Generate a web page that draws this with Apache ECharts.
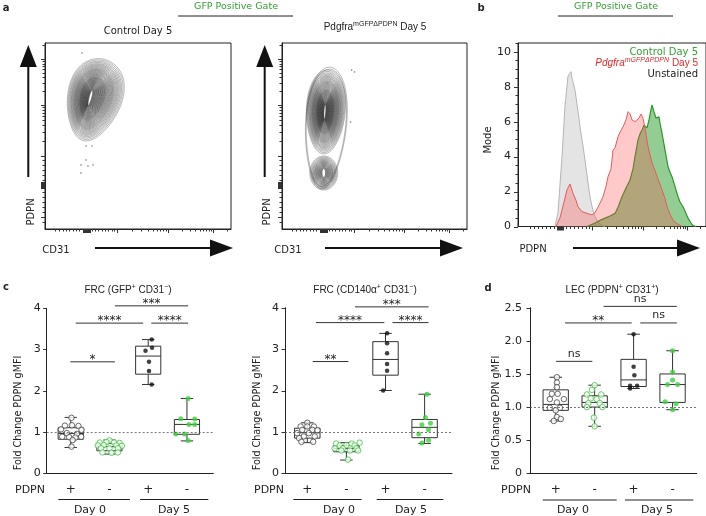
<!DOCTYPE html>
<html><head><meta charset="utf-8">
<script src="https://cdn.jsdelivr.net/npm/echarts@6/dist/echarts.min.js"></script>
<style>html,body{margin:0;padding:0;background:#fff}#c{width:706px;height:516px}</style>
</head><body><div id="c"></div><script>
const F = 'DejaVu Sans';

// ---------------- Panel a : flow contour plots (axis units, origin bottom-left of box) ----------------
const aMajorX = [38,39,40,41,42,43,44,45,72,123,168];
const aMinorX = [10,14,18,21,24,28,31,34,47,50,53,57,60,63,67,69,87.4,96.3,102.7,107.6,111.7,115.1,118.0,120.6,136.5,144.5,150.1,154.5,158.0,161.0,163.6,165.9,181.5];
const aMajorY = [12,41,42,43,44,45,46,47,73,124,170];
const aMinorY = [7,17,22,27,32,37,49,54,59,64,69,88.4,97.3,103.7,108.6,112.7,116.1,119.0,121.6,137.8,145.9,151.7,156.2,159.8,162.8,165.5,167.9,183.8];
const ringScalesMain = [1,0.96,0.92,0.885,0.85,0.82,0.79,0.76,0.73,0.70,0.675,0.65,0.625,0.60,0.575,0.55,0.525,0.50,0.475,0.45,0.43,0.41,0.39,0.37,0.35,0.33,0.31,0.29,0.27,0.25,0.23,0.21,0.19,0.17,0.15,0.13,0.11,0.09,0.07,0.05];
const ringScalesSmall = [1,0.93,0.86,0.8,0.74,0.68,0.63,0.58,0.53,0.48,0.43,0.38,0.33,0.28,0.23,0.18,0.13];
const ringScalesEnvelope = [1,0.96];
const controlBlobs = [
  {center:[49,129], core:[45,131], radius:[27,42], tilt:15, egg:0.2, rings:ringScalesMain}
];
const pdgfraBlobs = [
  {center:[44,101], core:[44,101], radius:[20.5,61], tilt:4, egg:0.15, rings:ringScalesEnvelope},
  {center:[44,117], core:[43,117], radius:[19.5,42], tilt:3, egg:0.1, rings:ringScalesMain},
  {center:[42,56], core:[42,56], radius:[14,17], tilt:0, egg:0, rings:ringScalesSmall}
];
const controlEvents = [[37,176],[41,83],[47,83],[41,69],[36,64],[43,63],[48,64],[36,56]];
const pdgfraEvents = [[70,159],[73,157],[69,107]];

// ---------------- Panel b : histograms (x = scaled PDPN channel, y = Mode) ----------------
const bMajorX = [39,40,41,42,43,44,45,74,125,169];
const bMinorX = [12,16,20,24,28,32,36,48,52,56,60,64,68,71,89.4,98.3,104.7,109.6,113.7,117.1,120.0,122.6,138.2,146.0,151.5,155.8,159.2,162.2,164.7,167.0,182.2];
const bYLabels = [0,2,4,6,8,10];
const bYMinor = [0.5,1,1.5,2.5,3,3.5,4.5,5,5.5,6.5,7,7.5,8.5,9,9.5,10.5];
const unstained = [[37,0],[40,0.8],[44,4.0],[47,6.9],[50,8.6],[53,8.86],[54,8.5],[55,8.6],[57,7.8],[60,6.6],[62,5.7],[65,4.6],[67,3.8],[70,2.5],[72,1.7],[75,0.9],[77,0.56],[80,0.25],[84,0.05],[87,0]];
const pdgfraHist = [[38,0],[42,0.5],[46,1.4],[49,2.1],[52,2.43],[55,1.9],[58,1.5],[60,1.13],[64,0.85],[69,0.75],[74,0.66],[77,0.8],[80,1.1],[85,1.7],[88,2.3],[90,2.85],[93,3.3],[95,4.38],[97,4.5],[100,5.14],[103,5.5],[105,5.7],[108,6.1],[110,6.57],[112,6.45],[114,6.1],[117,6.0],[119,6.1],[121,6.2],[123,6.44],[125,6.2],[127,5.64],[130,4.57],[132,4.1],[134,3.63],[137,3.2],[139,2.85],[142,2.4],[144,2.09],[147,1.6],[149,1.13],[152,0.7],[155,0.37],[158,0.2],[160,0.1],[164,0]];
const controlHist = [[69,0],[77,0.2],[82,0.35],[87,0.48],[92,0.6],[97,0.75],[100,1.1],[104,1.7],[108,2.2],[112,2.66],[115,3.3],[117,4.0],[120,4.95],[122,5.3],[124,5.52],[126,5.8],[129,5.64],[131,6.1],[133,6.7],[134,6.95],[136,6.57],[138,6.2],[139,6.1],[141,6.28],[142,5.9],[144,5.33],[147,4.38],[150,3.42],[152,3.1],[154,2.85],[157,2.28],[160,1.7],[162,1.4],[165,1.13],[168,0.75],[170,0.48],[173,0.2],[175,0.05],[178,0]];

// ---------------- Panels c, d : box plots ----------------
const pdpnSigns = ['+','-','+','-'];
const groupDays = ['Day 0','Day 5'];
const cTicks = [0,1,2,3,4];
const dTicks = [0,0.5,1,1.5,2,2.5];
// [whisker low, Q1, median, Q3, whisker high]
const c1Stats = [[0.62,0.82,0.96,1.10,1.35],[0.46,0.54,0.64,0.72,0.80],[2.15,2.40,2.84,3.08,3.24],[0.78,0.94,1.18,1.30,1.81]];
const c2Stats = [[0.74,0.85,0.98,1.09,1.22],[0.32,0.52,0.60,0.67,0.74],[2.00,2.37,2.75,3.18,3.38],[0.72,0.86,1.11,1.30,1.91]];
const dStats  = [[0.79,0.95,1.04,1.26,1.45],[0.71,1.00,1.07,1.17,1.33],[1.28,1.31,1.41,1.72,2.10],[0.96,1.07,1.34,1.50,1.85]];
// individual points: [horizontal jitter, value]
const c1Pts = [
  [[0.02,1.34],[-0.15,1.15],[0.03,1.16],[0.2,1.14],[-0.25,1.06],[0.28,1.05],[-0.1,0.97],[0.16,0.95],[-0.22,0.88],[-0.04,0.87],[0.12,0.86],[0.27,0.88],[0.05,0.80],[0.02,0.64]],
  [[0.0,0.79],[-0.25,0.74],[-0.08,0.75],[0.12,0.74],[0.26,0.73],[-0.3,0.67],[-0.15,0.68],[0.18,0.67],[0.32,0.66],[-0.22,0.6],[0.0,0.6],[0.22,0.6],[-0.18,0.5],[0.05,0.49],[0.22,0.5]],
  [[0.09,3.24],[-0.07,2.97],[0.1,3.04],[0.02,2.70],[0.02,2.48],[0.09,2.15]],
  [[0.03,1.81],[-0.16,1.32],[0.2,1.31],[0.05,1.18],[0.2,1.18],[-0.29,0.95],[-0.06,0.95],[0.03,0.79]]
];
const c2Pts = [
  [[0,1.22],[-0.17,1.13],[0,1.13],[0.17,1.13],[-0.13,1.05],[0.13,1.05],[0.26,1.04],[-0.26,0.97],[0.04,0.97],[-0.09,0.89],[0.19,0.89],[-0.21,0.85],[-0.15,0.76],[0.15,0.76]],
  [[-0.26,0.72],[0.13,0.72],[0.34,0.74],[-0.17,0.67],[0,0.68],[0.21,0.67],[-0.3,0.6],[-0.09,0.6],[0.26,0.6],[-0.13,0.55],[0.09,0.55],[0.3,0.55],[0.04,0.33]],
  [[0.04,3.38],[0.04,3.14],[0.04,2.9],[0.04,2.64],[0.04,2.48],[-0.06,2.0]],
  [[0.06,1.91],[0.02,1.35],[0.15,1.21],[-0.07,1.17],[0.1,1.05],[-0.15,0.95],[0.1,0.8],[-0.07,0.73]]
];
const dPts = [
  [[0.03,1.45],[0.03,1.37],[0.03,1.30],[-0.1,1.2],[0.05,1.2],[-0.15,1.12],[0.21,1.12],[0.03,1.07],[-0.15,0.99],[0.11,0.99],[0,0.95],[0.03,0.85],[0.13,0.82],[-0.05,0.79]],
  [[0,1.33],[-0.07,1.26],[-0.2,1.19],[0.17,1.19],[-0.1,1.13],[0.05,1.12],[-0.16,1.06],[0.13,1.06],[-0.2,1.0],[0.2,1.0],[-0.02,0.84],[0,0.71]],
  [[0,2.10],[0,1.61],[0.02,1.48],[-0.09,1.32],[0.09,1.32],[-0.09,1.28]],
  [[0,1.85],[0,1.53],[0,1.41],[-0.13,1.34],[0.13,1.34],[-0.19,1.08],[0.09,1.05],[0,0.96]]
];
// significance bars: [x start, x end, y, label index]
const sigLabels = ['*','**','***','****','ns'];
const c1Sig = [[-0.01,1.14,2.70,0],[0.13,1.87,3.64,3],[2.08,3.03,3.64,3],[1.14,3.03,4.06,2]];
const c2Sig = [[0.14,1.05,2.70,1],[0.22,1.97,3.64,3],[2.18,3.10,3.64,3],[1.22,3.10,4.02,2]];
const dSig  = [[0.01,0.94,1.69,4],[0.24,1.95,2.27,1],[2.17,3.11,2.27,4],[1.23,3.11,2.52,4]];

// ---------------- helpers ----------------
function rings(blobs){
  const out = [];
  blobs.forEach(b => b.rings.forEach(s => {
    out.push([b.core[0]+(b.center[0]-b.core[0])*s, b.core[1]+(b.center[1]-b.core[1])*s,
      b.radius[0]*s, b.radius[1]*(0.15+0.85*s), b.tilt, b.egg, 0.45+0.45*(1-s)]);
  }));
  return out;
}
function ringItem(params, api){
  const c = api.coord([api.value(0), api.value(1)]);
  const sz = api.size([api.value(2), api.value(3)]);
  const t = api.value(4)*Math.PI/180, e = api.value(5);
  const pts = [];
  for (let k=0;k<72;k++){
    const a = k/72*2*Math.PI, sx = Math.cos(a), sy = Math.sin(a);
    const x = sz[0]*sx*(1+e*sy), y = sz[1]*sy;
    const xr = x*Math.cos(t)+y*Math.sin(t), yr = -x*Math.sin(t)+y*Math.cos(t);
    pts.push([c[0]+xr, c[1]-yr]);
  }
  return {type:'polygon', silent:true, shape:{points:pts}, style:{fill:'none', stroke:'rgba(35,35,35,'+api.value(6)+')', lineWidth:0.7}};
}
function boxItem(params, api){
  const x = api.value(0);
  const lo = api.coord([x, api.value(1)]), q1 = api.coord([x, api.value(2)]), md = api.coord([x, api.value(3)]),
        q3 = api.coord([x, api.value(4)]), hi = api.coord([x, api.value(5)]);
  const bw = api.size([0.65,0])[0], cw = api.size([0.32,0])[0];
  const st = {stroke:'#333', lineWidth:1};
  const L = (x1,y1,x2,y2) => ({type:'line', shape:{x1,y1,x2,y2}, style:st});
  return {type:'group', children:[
    L(hi[0],hi[1],q3[0],q3[1]), L(lo[0],lo[1],q1[0],q1[1]),
    L(hi[0]-cw/2,hi[1],hi[0]+cw/2,hi[1]), L(lo[0]-cw/2,lo[1],lo[0]+cw/2,lo[1]),
    {type:'rect', shape:{x:q3[0]-bw/2, y:q3[1], width:bw, height:q1[1]-q3[1]}, style:{stroke:'#333', fill:'rgba(0,0,0,0)', lineWidth:1}},
    L(md[0]-bw/2,md[1],md[0]+bw/2,md[1])
  ]};
}
function sigItem(params, api){
  const a = api.coord([api.value(0), api.value(2)]), b = api.coord([api.value(1), api.value(2)]);
  const txt = sigLabels[api.value(3)];
  const star = txt !== 'ns';
  return {type:'group', children:[
    {type:'line', shape:{x1:a[0],y1:a[1],x2:b[0],y2:b[1]}, style:{stroke:'#333', lineWidth:1}},
    {type:'text', style:{text:txt, x:(a[0]+b[0])/2, y:a[1]+(star?4:-2), align:'center', verticalAlign:'bottom', fontFamily:F, fontSize:star?12:11, fill:'#222'}}
  ]};
}
// tick marks drawn through the axis scale: dim 'x' -> ticks below base y, 'y' -> ticks left of base x
function tickSeries(ax, dim, vals, base, len){
  return {type:'custom', xAxisIndex:ax, yAxisIndex:ax, clip:false, silent:true, z:6,
    data: vals.map(v => dim==='x' ? [v, base] : [base, v]),
    renderItem:(p, api) => {
      const pt = api.coord([api.value(0), api.value(1)]);
      if (dim==='x'){ const x = Math.round(pt[0])+0.5; return {type:'line', shape:{x1:x,y1:pt[1],x2:x,y2:pt[1]+len}, style:{stroke:'#333', lineWidth:1}}; }
      const y = Math.round(pt[1])+0.5; return {type:'line', shape:{x1:pt[0],y1:y,x2:pt[0]-len,y2:y}, style:{stroke:'#333', lineWidth:1}};
    }};
}
function vAxis(grid, min, max, pos, extra){
  return Object.assign({type:'value', gridIndex:grid, min, max, position:pos, offset:0, splitLine:{show:false},
    axisLine:{show:true, onZero:false, lineStyle:{color:'#222', width:1}}, axisTick:{show:false}, axisLabel:{show:false}}, extra||{});
}
const catLabel = {show:true, customValues:[0,1,2,3], formatter:v=>pdpnSigns[Math.round(v)], margin:11, fontFamily:F, fontSize:12, color:'#222'};
const xMin = {c1:-0.62, c2:-0.57, d:-0.66};
const xAxes = [
  vAxis(0,0,186,'bottom'), vAxis(1,0,186,'bottom'), vAxis(2,0,188,'bottom'),
  vAxis(3,xMin.c1,3.68,'bottom',{axisLabel:catLabel}),
  vAxis(4,xMin.c2,3.70,'bottom',{axisLabel:catLabel}),
  vAxis(5,xMin.d,3.62,'bottom',{axisLabel:catLabel})
];
const yLab = (vals, fmt, margin) => ({show:true, customValues:vals, formatter:fmt, margin, fontFamily:F, fontSize:11, color:'#222'});
const yAxes = [
  vAxis(0,0,186,'left'), vAxis(1,0,186,'left'),
  vAxis(2,0,10.5,'left',{axisLabel:yLab(bYLabels, v=>String(v), 7)}),
  vAxis(3,0,4,'left',{axisLabel:yLab(cTicks, v=>String(v), 6)}),
  vAxis(4,0,4,'left',{axisLabel:yLab(cTicks, v=>String(v), 6)}),
  vAxis(5,0,2.5,'left',{axisLabel:yLab(dTicks, v=>v===0?'0':v.toFixed(1), 8)})
];

const markerStyles = [
  {symbolSize:5.5, itemStyle:{color:'#fff', borderColor:'#444', borderWidth:1}},
  {symbolSize:5.5, itemStyle:{color:'#fff', borderColor:'#3cc43c', borderWidth:1}},
  {symbolSize:4.5, itemStyle:{color:'#111', borderWidth:0}},
  {symbolSize:5, itemStyle:{color:'#3fd03f', borderWidth:0}}
];
function boxPanel(ax, stats, pts, sig, yt, xmin){
  const s = [];
  s.push({type:'custom', xAxisIndex:ax, yAxisIndex:ax, renderItem:boxItem, z:2,
    data: stats.map((st,i)=>[i].concat(st)),
    markLine:{silent:true, symbol:'none', label:{show:false}, lineStyle:{type:[2,2], color:'#555', width:0.8}, data:[{yAxis:1}]}});
  pts.forEach((g,i)=>s.push(Object.assign({type:'scatter', xAxisIndex:ax, yAxisIndex:ax, symbol:'circle', z:4,
    data:g.map(p=>[i+p[0], p[1]])}, markerStyles[i])));
  s.push({type:'custom', xAxisIndex:ax, yAxisIndex:ax, renderItem:sigItem, clip:false, z:5, data:sig});
  s.push(tickSeries(ax,'y',yt,xmin,3.5));
  return s;
}

const series = [
  {type:'custom', xAxisIndex:0, yAxisIndex:0, renderItem:ringItem, data:rings(controlBlobs), z:2},
  {type:'scatter', xAxisIndex:0, yAxisIndex:0, data:controlEvents, symbolSize:1.6, itemStyle:{color:'#555'}},
  {type:'custom', xAxisIndex:1, yAxisIndex:1, renderItem:ringItem, data:rings(pdgfraBlobs), z:2},
  {type:'scatter', xAxisIndex:1, yAxisIndex:1, data:pdgfraEvents, symbolSize:1.6, itemStyle:{color:'#555'}},
  tickSeries(0,'x',aMajorX,0,4), tickSeries(0,'x',aMinorX,0,2.5), tickSeries(0,'y',aMajorY,0,4), tickSeries(0,'y',aMinorY,0,2.5),
  tickSeries(1,'x',aMajorX,0,4), tickSeries(1,'x',aMinorX,0,2.5), tickSeries(1,'y',aMajorY,0,4), tickSeries(1,'y',aMinorY,0,2.5),
  {type:'line', xAxisIndex:2, yAxisIndex:2, data:unstained, symbol:'none', lineStyle:{color:'#b5b5b5', width:1}, areaStyle:{color:'rgba(185,185,185,0.55)'}, z:2},
  {type:'line', xAxisIndex:2, yAxisIndex:2, data:controlHist, symbol:'none', lineStyle:{color:'#2a962a', width:1.2}, areaStyle:{color:'rgba(50,160,50,0.75)'}, z:3},
  {type:'line', xAxisIndex:2, yAxisIndex:2, data:pdgfraHist, symbol:'none', lineStyle:{color:'#e35b5b', width:1}, areaStyle:{color:'rgba(255,70,70,0.42)'}, z:4},
  tickSeries(2,'x',bMajorX,0,4), tickSeries(2,'x',bMinorX,0,2.5), tickSeries(2,'y',bYLabels,0,4), tickSeries(2,'y',bYMinor,0,2.5),
].concat(boxPanel(3, c1Stats, c1Pts, c1Sig, cTicks, xMin.c1), boxPanel(4, c2Stats, c2Pts, c2Sig, cTicks, xMin.c2), boxPanel(5, dStats, dPts, dSig, dTicks, xMin.d));

// ---------------- annotations ----------------
function T(x, y, text, st, rot){ return {type:'text', x, y, rotation:rot||0, style:Object.assign({text, fontFamily:F, fontSize:10, fill:'#222', align:'center', verticalAlign:'middle'}, st||{})}; }
function Ln(x1,y1,x2,y2,w){ return {type:'line', shape:{x1,y1,x2,y2}, style:{stroke:'#222', lineWidth:w||1}}; }
function arrowUp(x, top, bottom){ return [
  {type:'rect', shape:{x:x-1, y:top+20, width:2, height:bottom-top-20}, style:{fill:'#111'}},
  {type:'polygon', shape:{points:[[x,top],[x-8.5,top+22],[x+8.5,top+22]]}, style:{fill:'#111'}}]; }
function arrowRight(y, left, right){ return [
  {type:'rect', shape:{x:left, y:y-1, width:right-left-22, height:2}, style:{fill:'#111'}},
  {type:'polygon', shape:{points:[[right,y],[right-23,y-8.5],[right-23,y+8.5]]}, style:{fill:'#111'}}]; }
const sup = {fontSize:7, verticalAlign:'top', lineHeight:13};
const nrm = {fontSize:10, lineHeight:13};
function rich(x, y, text, richSt, fill, extra){ return {type:'text', x, y, style:Object.assign({text, rich:richSt, fontFamily:F, fontSize:10, fill:fill||'#222', align:'center', verticalAlign:'middle'}, extra||{})}; }
const green = '#33a033', red = '#e0262b';

const graphic = [
  T(6,8,'a',{fontWeight:'bold'}), T(481,8,'b',{fontWeight:'bold'}), T(6,287,'c',{fontWeight:'bold'}), T(488,288,'d',{fontWeight:'bold'}),
  T(236,7,'GFP Positive Gate',{fill:green, fontSize:9.5}), Ln(178,16,293,16),
  T(616,7,'GFP Positive Gate',{fill:green, fontSize:9.5}), Ln(558,16,673,16),
  T(138,31,'Control Day 5'),
  rich(375,27,'{n|Pdgfra}{s|mGFPΔPDPN}{n| Day 5}',{n:nrm, s:sup}),
  T(31,212,'PDPN',{},Math.PI/2), T(56,250,'CD31'),
  T(267,212,'PDPN',{},Math.PI/2), T(288,250,'CD31'),
  T(533,249,'PDPN'),
  T(488,140,'Mode',{},Math.PI/2),
  T(698,52,'Control Day 5',{fill:green, align:'right'}),
  rich(698,63,'{i|Pdgfra}{s|mGFPΔPDPN}{n| Day 5}',{i:Object.assign({fontStyle:'italic', fill:red},nrm), s:Object.assign({fontStyle:'italic', fill:red},sup), n:Object.assign({fill:red},nrm)}, red, {align:'right'}),
  T(698,74,'Unstained',{align:'right'}),
  rich(128,290,'{n|FRC (GFP}{s|+}{n| CD31}{s|−}{n|)}',{n:nrm, s:sup}),
  rich(365,290,'{n|FRC (CD140α}{s|+}{n| CD31}{s|−}{n|)}',{n:nrm, s:sup}),
  rich(612,290,'{n|LEC (PDPN}{s|+}{n| CD31}{s|+}{n|)}',{n:nrm, s:sup}),
  T(18,413,'Fold Change PDPN gMFI',{fontSize:9.6},Math.PI/2),
  T(257,413,'Fold Change PDPN gMFI',{fontSize:9.6},Math.PI/2),
  T(496,413,'Fold Change PDPN gMFI',{fontSize:9.6},Math.PI/2),
  T(30,490,'PDPN',{fontSize:11}), T(269,490,'PDPN',{fontSize:11}), T(516,490,'PDPN',{fontSize:11}),
  Ln(58.3,499.5,130,499.5), Ln(140,499.5,208.3,499.5), T(90,510,groupDays[0],{fontSize:11}), T(174,510,groupDays[1],{fontSize:11}),
  Ln(293.3,499.5,361.7,499.5), Ln(376.7,499.5,443.3,499.5), T(339,510,groupDays[0],{fontSize:11}), T(411,510,groupDays[1],{fontSize:11}),
  Ln(542.7,500,616.7,500), Ln(625,500,693.3,500), T(573,510,groupDays[0],{fontSize:11}), T(657,510,groupDays[1],{fontSize:11}),
].concat(arrowUp(28.3,45,177), arrowRight(248,95,233), arrowUp(264.7,45,177), arrowRight(248,325,463), arrowRight(248,573,700));

const chart = echarts.init(document.getElementById('c'), null, {renderer:'canvas', width:706, height:516});
const G = (o) => Object.assign({containLabel:false, outerBoundsMode:'none'}, o);
const boxBorder = {show:true, borderColor:'#222', borderWidth:1, backgroundColor:'rgba(0,0,0,0)'};
chart.setOption({
  animation:false,
  backgroundColor:'#fff',
  textStyle:{fontFamily:F},
  grid:[
    G(Object.assign({left:45, top:43, width:186, height:186}, boxBorder)),
    G(Object.assign({left:282, top:43, width:185, height:186}, boxBorder)),
    G(Object.assign({left:518, top:43, width:188, height:183.5}, boxBorder)),
    G({left:46.7, top:308.3, width:166.6, height:164.7}),
    G({left:285, top:307.7, width:167, height:165.6}),
    G({left:530, top:307.7, width:166.7, height:165.6})
  ],
  xAxis:xAxes, yAxis:yAxes, series, graphic
});
</script></body></html>
